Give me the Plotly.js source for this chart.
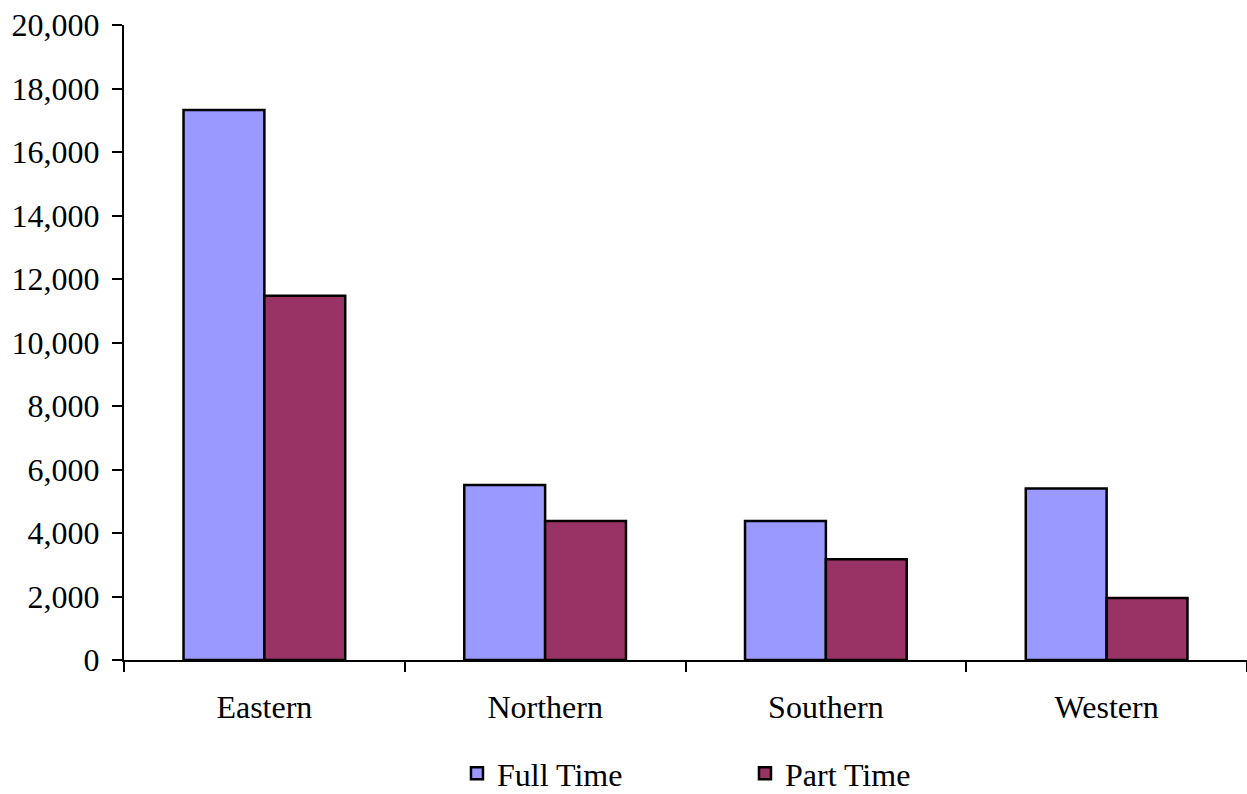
<!DOCTYPE html>
<html>
<head>
<meta charset="utf-8">
<script src="https://cdn.plot.ly/plotly-3.0.1.min.js"></script>
<style>html,body{margin:0;padding:0;background:#fff;}#chart{width:1247px;height:794px;}</style>
</head>
<body>
<div id="chart"></div>
<script>
const regions = ["Eastern", "Northern", "Southern", "Western"];
const fullTime = [17320, 5510, 4380, 5400];
const partTime = [11470, 4380, 3170, 1950];
const yTicks = [0, 2000, 4000, 6000, 8000, 10000, 12000, 14000, 16000, 18000, 20000];

const fontFam = "'Liberation Serif', 'Times New Roman', serif";
const traces = [
  {type: "bar", name: "Full Time", x: regions, y: fullTime,
   marker: {color: "#9999FF", line: {color: "#000000", width: 2.5}}},
  {type: "bar", name: "Part Time", x: regions, y: partTime,
   marker: {color: "#993366", line: {color: "#000000", width: 2.5}}}
];
const layout = {
  width: 1247, height: 794,
  margin: {l: 124, r: 0, t: 25, b: 134, autoexpand: false},
  paper_bgcolor: "#ffffff", plot_bgcolor: "#ffffff",
  font: {family: fontFam, size: 32, color: "#000000"},
  barmode: "group", bargap: 0.424, bargroupgap: 0,
  xaxis: {showline: true, linecolor: "#000", linewidth: 2, ticks: "outside", tickson: "boundaries",
          ticklen: 10, tickwidth: 2, tickcolor: "#000", showgrid: false, zeroline: false,
          ticklabelstandoff: 18,
          tickfont: {family: fontFam, size: 32}, fixedrange: true},
  yaxis: {range: [0, 20000], tickvals: yTicks, tickformat: ",d", showline: true, linecolor: "#000", linewidth: 2,
          ticks: "outside", ticklen: 10, tickwidth: 2, tickcolor: "#000", showgrid: false, zeroline: false,
          ticklabelstandoff: 6,
          tickfont: {family: fontFam, size: 32}, fixedrange: true},
  showlegend: true,
  legend: {orientation: "h", x: 0.2965, xanchor: "left", yref: "container", y: 0.026, yanchor: "middle",
           entrywidth: 243, entrywidthmode: "pixels", font: {family: fontFam, size: 32}}
};
Plotly.newPlot("chart", traces, layout, {displayModeBar: false, staticPlot: true});
</script>
</body>
</html>
